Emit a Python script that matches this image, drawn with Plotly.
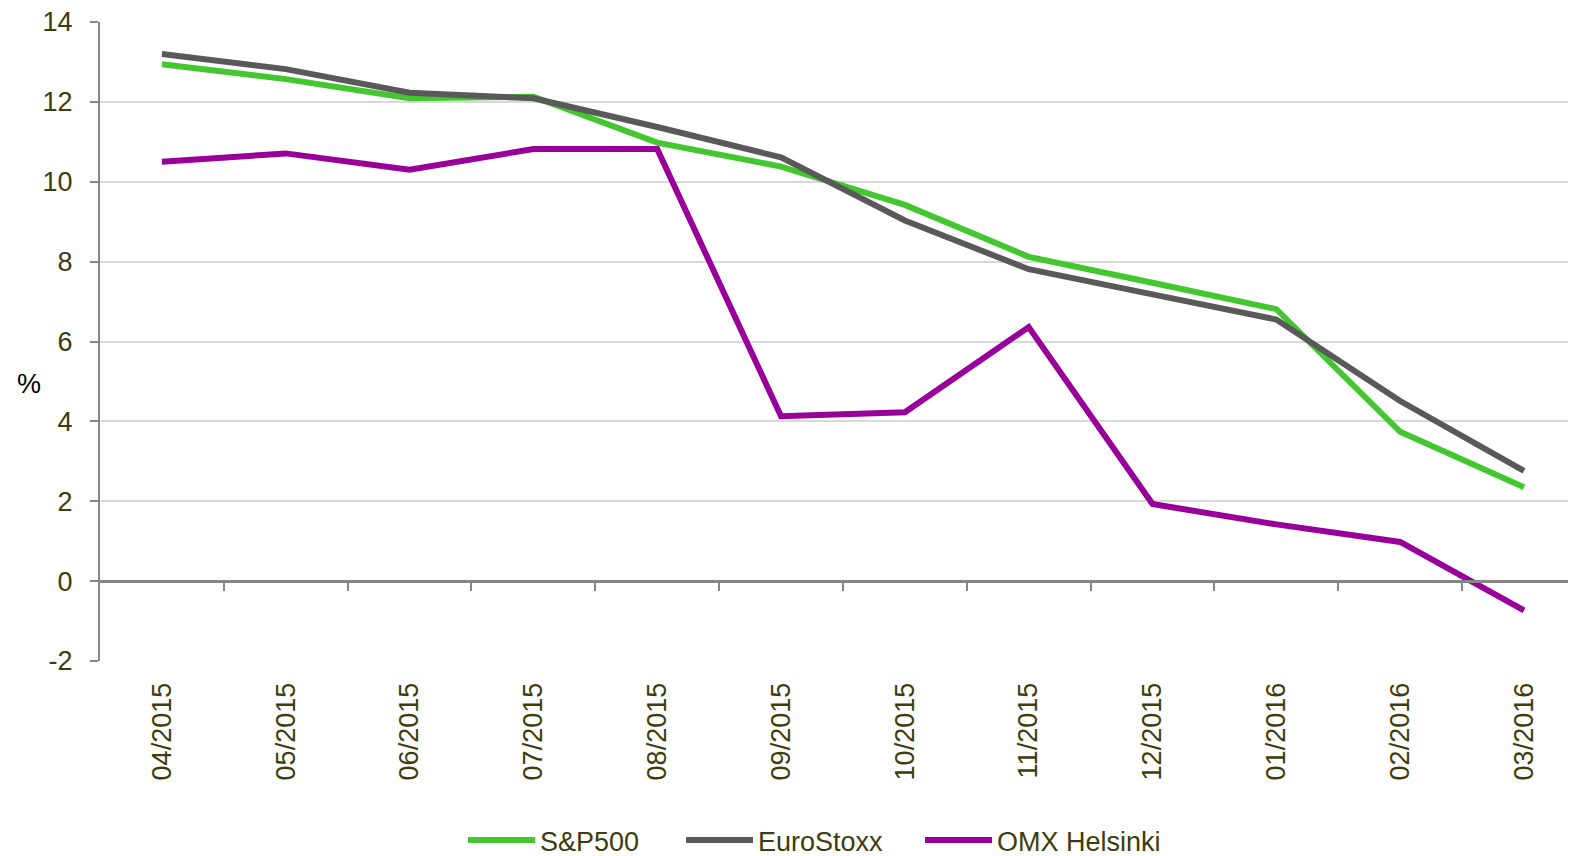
import plotly.graph_objects as go

months = ["04/2015", "05/2015", "06/2015", "07/2015", "08/2015", "09/2015",
          "10/2015", "11/2015", "12/2015", "01/2016", "02/2016", "03/2016"]
sp500 = [12.94, 12.57, 12.09, 12.13, 10.98, 10.38, 9.42, 8.12, 7.47, 6.81, 3.74, 2.35]
eurostoxx = [13.20, 12.82, 12.23, 12.09, 11.37, 10.61, 9.03, 7.81, 7.18, 6.55, 4.51, 2.76]
omx = [10.50, 10.71, 10.30, 10.82, 10.82, 4.13, 4.23, 6.36, 1.93, 1.42, 0.98, -0.73]
y_ticks = [-2, 0, 2, 4, 6, 8, 10, 12, 14]

text_col = "#3d3c0b"
axis_col = "#868686"
font_family = "Arial, Liberation Sans, sans-serif"

fig = go.Figure()
series = [("S&P500", sp500, "#43c72f", "legend"),
          ("EuroStoxx", eurostoxx, "#595959", "legend2"),
          ("OMX Helsinki", omx, "#990099", "legend3")]
for name, vals, col, leg in series:
    fig.add_trace(go.Scatter(
        x=list(range(len(months))), y=vals, name=name, mode="lines",
        line=dict(color=col, width=6), legend=leg,
    ))

# boundary ticks on the zero line
boundaries = [i + 0.5 for i in range(len(months) - 1)]
fig.add_trace(go.Scatter(x=[None], y=[None], xaxis="x2", showlegend=False,
                         hoverinfo="skip"))


def legend_at(x):
    return dict(orientation="h", x=x, xanchor="left", y=-0.281, yanchor="middle",
                font=dict(size=27, color=text_col), itemwidth=67,
                bgcolor="rgba(0,0,0,0)")


# page body has an 8px margin, so the figure is 8px smaller than the window
x_range = [-0.5, 11.42]
fig.update_layout(
    width=1568, height=848,
    margin=dict(l=92, r=0, t=14, b=195, autoexpand=False),
    paper_bgcolor="white", plot_bgcolor="white",
    font=dict(family=font_family, size=27, color=text_col),
    xaxis=dict(
        range=x_range, tickmode="array",
        tickvals=list(range(len(months))), ticktext=months,
        tickangle=-90, ticks="outside", ticklen=10, tickcolor="rgba(0,0,0,0)",
        showgrid=False, showline=False, zeroline=False,
        tickfont=dict(size=27, color=text_col),
    ),
    xaxis2=dict(
        range=x_range, overlaying="x", anchor="free", position=2 / 16,
        side="bottom", tickmode="array", tickvals=boundaries,
        showticklabels=False, ticks="outside", ticklen=8, tickwidth=2,
        tickcolor=axis_col, showline=True, linecolor=axis_col, linewidth=3,
        showgrid=False, zeroline=False,
    ),
    yaxis=dict(
        range=[-2, 14], tickmode="array", tickvals=y_ticks,
        ticktext=[str(v) for v in y_ticks], ticklabelstandoff=12,
        ticklabeloverflow="allow",
        ticks="outside", ticklen=8, tickwidth=2, tickcolor=axis_col,
        showline=True, linecolor=axis_col, linewidth=2,
        showgrid=True, gridcolor="#d9d9d9", gridwidth=2, zeroline=False,
        tickfont=dict(size=27, color=text_col),
    ),
    legend=legend_at(0.2459),
    legend2=legend_at(0.3936),
    legend3=legend_at(0.5556),
    annotations=[dict(
        text="%", xref="paper", yref="paper", x=-0.048, y=0.433,
        showarrow=False, font=dict(size=27, color="black"),
        xanchor="center", yanchor="middle",
    )],
)

fig.write_html("out.html")
